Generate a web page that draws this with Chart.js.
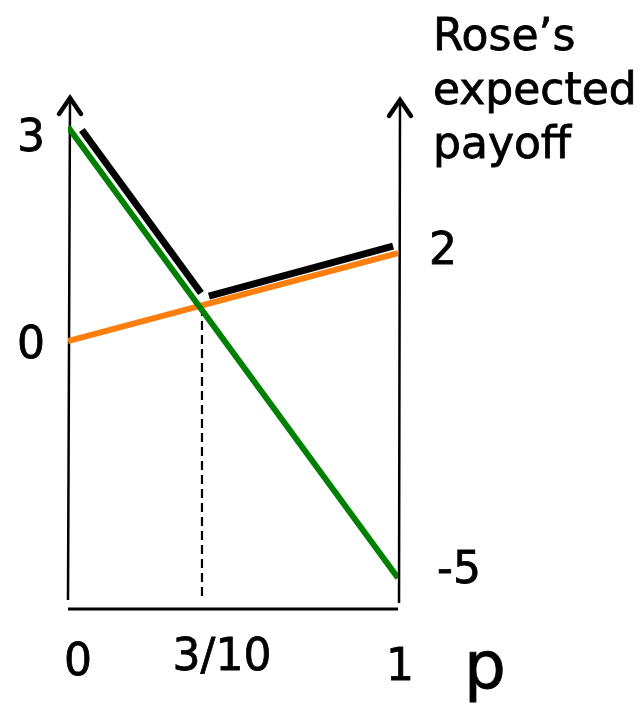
<!DOCTYPE html>
<html>
<head>
<meta charset="utf-8">
<script src="https://cdn.jsdelivr.net/npm/chart.js@4.4.1/dist/chart.umd.min.js"></script>
<style>
  html, body { margin: 0; padding: 0; background: #ffffff; }
  #wrap { width: 644px; height: 707px; position: relative; }
</style>
</head>
<body>
<div id="wrap"><canvas id="c"></canvas></div>
<script>
// ---- data ----
const pEnds = [0, 1];                       // p at the left and right axes
const payoffGreen = [3, -5];                // Rose's payoff line (left value, right value)
const payoffOrange = [0, 2];                // Rose's payoff line (left value, right value)
// upper envelope (black), read on the left-axis scale
const envelopeP = [0.042, 0.403, 0.415, 0.427, 0.985];
const envelopeY = [2.958, 0.673, null, 0.631, 1.332];
// intersection marker (dashed)
const pStar = 0.406;
const dashedY = [0.477, -3.589];
// tick labels
const leftTickValues = [3, 0];
const leftTickLabels = ['3', '0'];
const rightTickValues = [2, -5];
const rightTickLabels = ['2', '-5'];
const xTickValues = [0, pStar, 1];
const xTickLabels = ['0', '3/10', '1'];
const xAxisTitle = 'p';
const yAxisTitle = ['Rose\u2019s', 'expected', 'payoff'];

// ---- scales ----
const LEFT = { min: -3.757, max: 3.449 };
const RIGHT = { min: -5.667, max: 5.404 };
// convert a value read on the right axis to the left-axis scale (both span the same pixels)
function rightToLeft(v) {
  return LEFT.min + (v - RIGHT.min) / (RIGHT.max - RIGHT.min) * (LEFT.max - LEFT.min);
}
function segment(vals) {
  return [{ x: pEnds[0], y: vals[0] }, { x: pEnds[1], y: rightToLeft(vals[1]) }];
}

const FONT = '"DejaVu Sans", sans-serif';

const overlay = {
  id: 'overlay',
  beforeDatasetsDraw(chart) {
    const { ctx, scales } = chart;
    const xs = scales.x;
    const xL = xs.getPixelForValue(0), xR = xs.getPixelForValue(1);
    const top = chart.chartArea.top, bottom = chart.chartArea.bottom;
    ctx.save();
    ctx.strokeStyle = '#000';
    ctx.lineCap = 'butt';
    ctx.lineWidth = 2.5;
    // vertical axes
    ctx.beginPath();
    ctx.moveTo(xL, bottom - 9); ctx.lineTo(xL + 2, top + 3);
    ctx.moveTo(xR + 1, bottom - 6); ctx.lineTo(xR + 2, top + 5);
    ctx.stroke();
    // horizontal axis
    ctx.lineWidth = 3;
    ctx.beginPath();
    ctx.moveTo(xL, bottom); ctx.lineTo(xR, bottom);
    ctx.stroke();
    // arrow heads
    ctx.lineWidth = 4.5;
    ctx.lineJoin = 'miter';
    ctx.lineCap = 'round';
    [[xL + 2, top], [xR + 2, top + 2]].forEach(([ax, ay]) => {
      ctx.beginPath();
      ctx.moveTo(ax - 11, ay + 19);
      ctx.lineTo(ax, ay + 3);
      ctx.lineTo(ax + 11, ay + 19);
      ctx.stroke();
    });
    ctx.restore();
  },
  afterDraw(chart) {
    const { ctx, scales } = chart;
    const xs = scales.x, yl = scales.y, yr = scales.y2;
    const xL = xs.getPixelForValue(0), xR = xs.getPixelForValue(1);
    const bottom = chart.chartArea.bottom;
    ctx.save();
    ctx.fillStyle = '#000';
    ctx.strokeStyle = '#000';
    ctx.lineWidth = 0.8;
    ctx.font = '44px ' + FONT;
    ctx.textAlign = 'center';
    ctx.textBaseline = 'alphabetic';
    const txt = (s, x, y) => { ctx.fillText(s, x, y); ctx.strokeText(s, x, y); };
    const leftNudge = [8, 1];
    leftTickValues.forEach((v, i) => {
      txt(leftTickLabels[i], xL - 37, yl.getPixelForValue(v) + leftNudge[i] + 16);
    });
    const rightNudge = [[45, -5], [61, -11]];
    rightTickValues.forEach((v, i) => {
      txt(rightTickLabels[i], xR + rightNudge[i][0], yr.getPixelForValue(v) + rightNudge[i][1] + 16);
    });
    const xNudge = [[10, 50], [20, 45], [2, 55]];
    xTickValues.forEach((v, i) => {
      txt(xTickLabels[i], xs.getPixelForValue(v) + xNudge[i][0], bottom + xNudge[i][1] + 16);
    });
    ctx.font = '66px ' + FONT;
    txt(xAxisTitle, xR + 87, bottom + 79);
    ctx.font = '44px ' + FONT;
    ctx.textAlign = 'left';
    yAxisTitle.forEach((t, i) => {
      txt(t, xR + 35, 50 + i * 54);
    });
    ctx.restore();
  }
};

new Chart(document.getElementById('c'), {
  type: 'line',
  data: {
    datasets: [
      {
        label: 'dashed',
        data: dashedY.map(y => ({ x: pStar, y })),
        borderColor: '#000',
        borderWidth: 2.2,
        borderDash: [9, 5],
        pointRadius: 0,
        order: 4
      },
      {
        label: 'envelope',
        data: envelopeP.map((x, i) => ({ x, y: envelopeY[i] })),
        borderColor: '#000000',
        borderWidth: 7,
        spanGaps: false,
        pointRadius: 0,
        borderCapStyle: 'butt',
        order: 3
      },
      {
        label: 'orange',
        data: segment(payoffOrange),
        borderColor: '#ff7f0e',
        borderWidth: 6,
        pointRadius: 0,
        borderCapStyle: 'butt',
        order: 2
      },
      {
        label: 'green',
        data: segment(payoffGreen),
        borderColor: '#008000',
        borderWidth: 6,
        pointRadius: 0,
        borderCapStyle: 'butt',
        order: 1
      }
    ]
  },
  options: {
    responsive: true,
    maintainAspectRatio: false,
    animation: false,
    layout: { padding: { left: 68, right: 246, top: 95, bottom: 98 } },
    plugins: { legend: { display: false }, tooltip: { enabled: false } },
    scales: {
      x: { type: 'linear', min: 0, max: 1, display: false },
      y: { type: 'linear', min: LEFT.min, max: LEFT.max, display: false },
      y2: { type: 'linear', position: 'right', min: RIGHT.min, max: RIGHT.max, display: false }
    }
  },
  plugins: [overlay]
});
</script>
</body>
</html>
